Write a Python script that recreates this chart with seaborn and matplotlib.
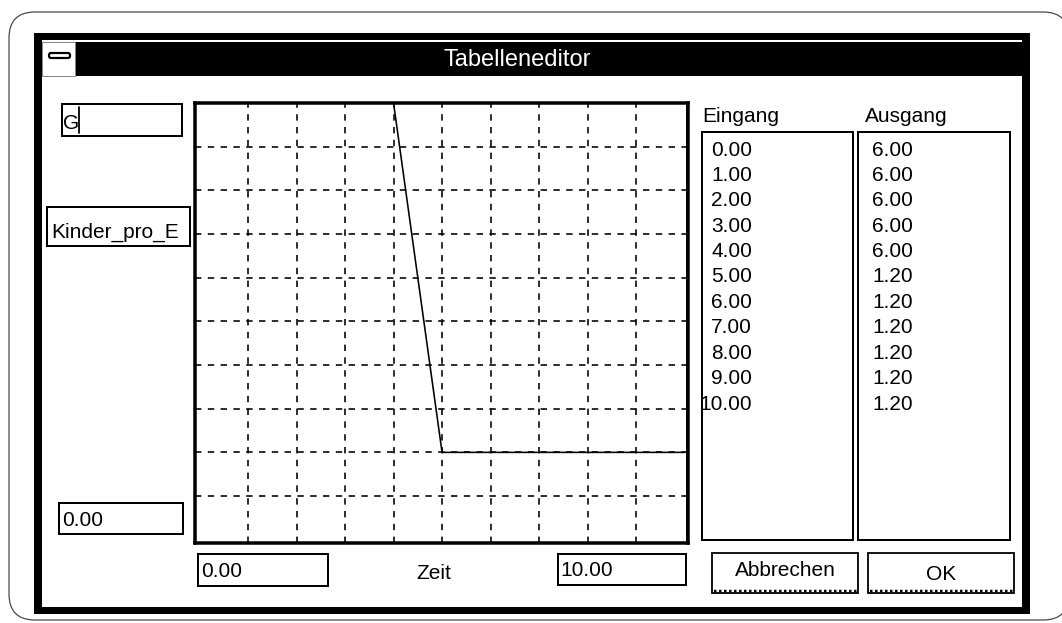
import matplotlib
matplotlib.use("Agg")
import matplotlib.pyplot as plt
from matplotlib.patches import Rectangle, FancyBboxPatch
import numpy as np
import seaborn as sns
import pandas as pd

# ---- data ----
eingang = [0.0, 1.0, 2.0, 3.0, 4.0, 5.0, 6.0, 7.0, 8.0, 9.0, 10.0]
ausgang = [6.0, 6.0, 6.0, 6.0, 6.0, 1.2, 1.2, 1.2, 1.2, 1.2, 1.2]
title = "Tabelleneditor"
var_name = "Kinder_pro_E"
x_label = "Zeit"
x_min_label = "0.00"
x_max_label = "10.00"
y_min_label = "0.00"
col_labels = ["Eingang", "Ausgang"]
buttons = ["Abbrechen", "OK"]
x_grid = [1, 2, 3, 4, 5, 6, 7, 8, 9]
y_grid = [0.6, 1.2, 1.8, 2.4, 3.0, 3.6, 4.2, 4.8, 5.4]

sns.set_theme(style="white")
plt.rcParams["font.family"] = ["Liberation Sans", "DejaVu Sans"]

W, H = 1062, 623
fig = plt.figure(figsize=(W / 100, H / 100), dpi=100)
fig.patch.set_facecolor("white")

PX = 0.72  # points per pixel
FS = 15.0  # body font size (pt)

bg = fig.add_axes([0, 0, 1, 1], zorder=0)
bg.set_xlim(0, W)
bg.set_ylim(H, 0)
bg.axis("off")


def rect(x0, y0, x1, y1, fc="none", ec="black", lw=2.0, z=1):
    bg.add_patch(Rectangle((x0, y0), x1 - x0, y1 - y0, facecolor=fc,
                           edgecolor=ec, linewidth=lw * PX, zorder=z))


def txt(x, y, s, ha="left", color="black", size=FS, z=5):
    bg.text(x, y, s, ha=ha, va="baseline", color=color, fontsize=size, zorder=z)


# outer rounded frame
bg.add_patch(FancyBboxPatch((9, 12), 1060, 608,
                            boxstyle="round,pad=0,rounding_size=26",
                            facecolor="white", edgecolor="#444444",
                            linewidth=1.2 * PX, zorder=0))

# window border
rect(34, 33, 1030, 614, fc="black", ec="none", lw=0)
rect(42, 40, 1022, 607, fc="white", ec="none", lw=0, z=1)
# title bar
rect(42, 42, 1022, 76, fc="black", ec="none", lw=0, z=2)
# system menu box
rect(42, 42, 75, 76, fc="white", ec="#888888", lw=1, z=3)
bg.add_patch(FancyBboxPatch((49, 53), 21, 5,
                            boxstyle="round,pad=0,rounding_size=2",
                            facecolor="white", edgecolor="black",
                            linewidth=2.2 * PX, zorder=4))
txt(517, 66.5, title, ha="center", color="white", size=17.0)

# left fields
rect(62, 104, 182, 136, fc="white")
txt(63, 129, "G")
bg.plot([79, 79], [107, 133], color="black", lw=1.8 * PX, zorder=5)
rect(47, 207, 190, 246, fc="white")
txt(51, 238, var_name)
rect(59, 503, 183, 534, fc="white")
txt(62, 526, y_min_label)

# bottom fields
rect(198, 554, 328, 586, fc="white")
txt(201, 577, x_min_label)
txt(416, 579, x_label)
rect(558, 554, 686, 585, fc="white")
txt(560, 576, x_max_label)

# list columns
txt(702, 122, col_labels[0])
txt(865, 122, col_labels[1])
rect(702, 132, 853, 540, fc="white")
rect(858, 132, 1010, 540, fc="white")
for i, (a, b) in enumerate(zip(eingang, ausgang)):
    yb = 155.5 + 25.4 * i
    txt(752, yb, f"{a:.2f}", ha="right")
    txt(913, yb, f"{b:.2f}", ha="right")

# buttons
for (x0, x1), label, yb in zip([(712, 858), (868, 1014)], buttons, [576, 580]):
    rect(x0, 553, x1, 593, fc="white", lw=1.8)
    bg.plot([x0 + 2, x1 - 1], [591, 591], color="black", lw=2.5 * PX,
            linestyle=(0, (1, 1)), zorder=4)
    txt((x0 + x1) / 2, yb, label, ha="center")

# ---- chart ----
L, R, T, B = 195, 688, 103, 543
ax = fig.add_axes([L / W, 1 - B / H, (R - L) / W, (B - T) / H], zorder=2)
df = pd.DataFrame({"Eingang": eingang, "Ausgang": ausgang})
sns.lineplot(data=df, x="Eingang", y="Ausgang", ax=ax, color="black",
             linewidth=1.6 * PX, zorder=3)
ax.set_xlim(-0.093, 10.07)
ax.set_ylim(-0.045, 6.0)
ax.set_xticks(x_grid)
ax.set_yticks(y_grid)
ax.set_xticklabels([])
ax.set_yticklabels([])
ax.tick_params(length=0)
ax.set_xlabel("")
ax.set_ylabel("")
ax.grid(True, color="black", linestyle=(0, (4, 4)), linewidth=1.6 * PX)
ax.set_axisbelow(True)
ax.set_facecolor("white")
for s in ax.spines.values():
    s.set_visible(True)
    s.set_color("black")
    s.set_linewidth(3.5 * PX)
ax.axvline(10.02, color="black", lw=1.0 * PX, zorder=1)

fig.savefig("out.png", dpi=100)
